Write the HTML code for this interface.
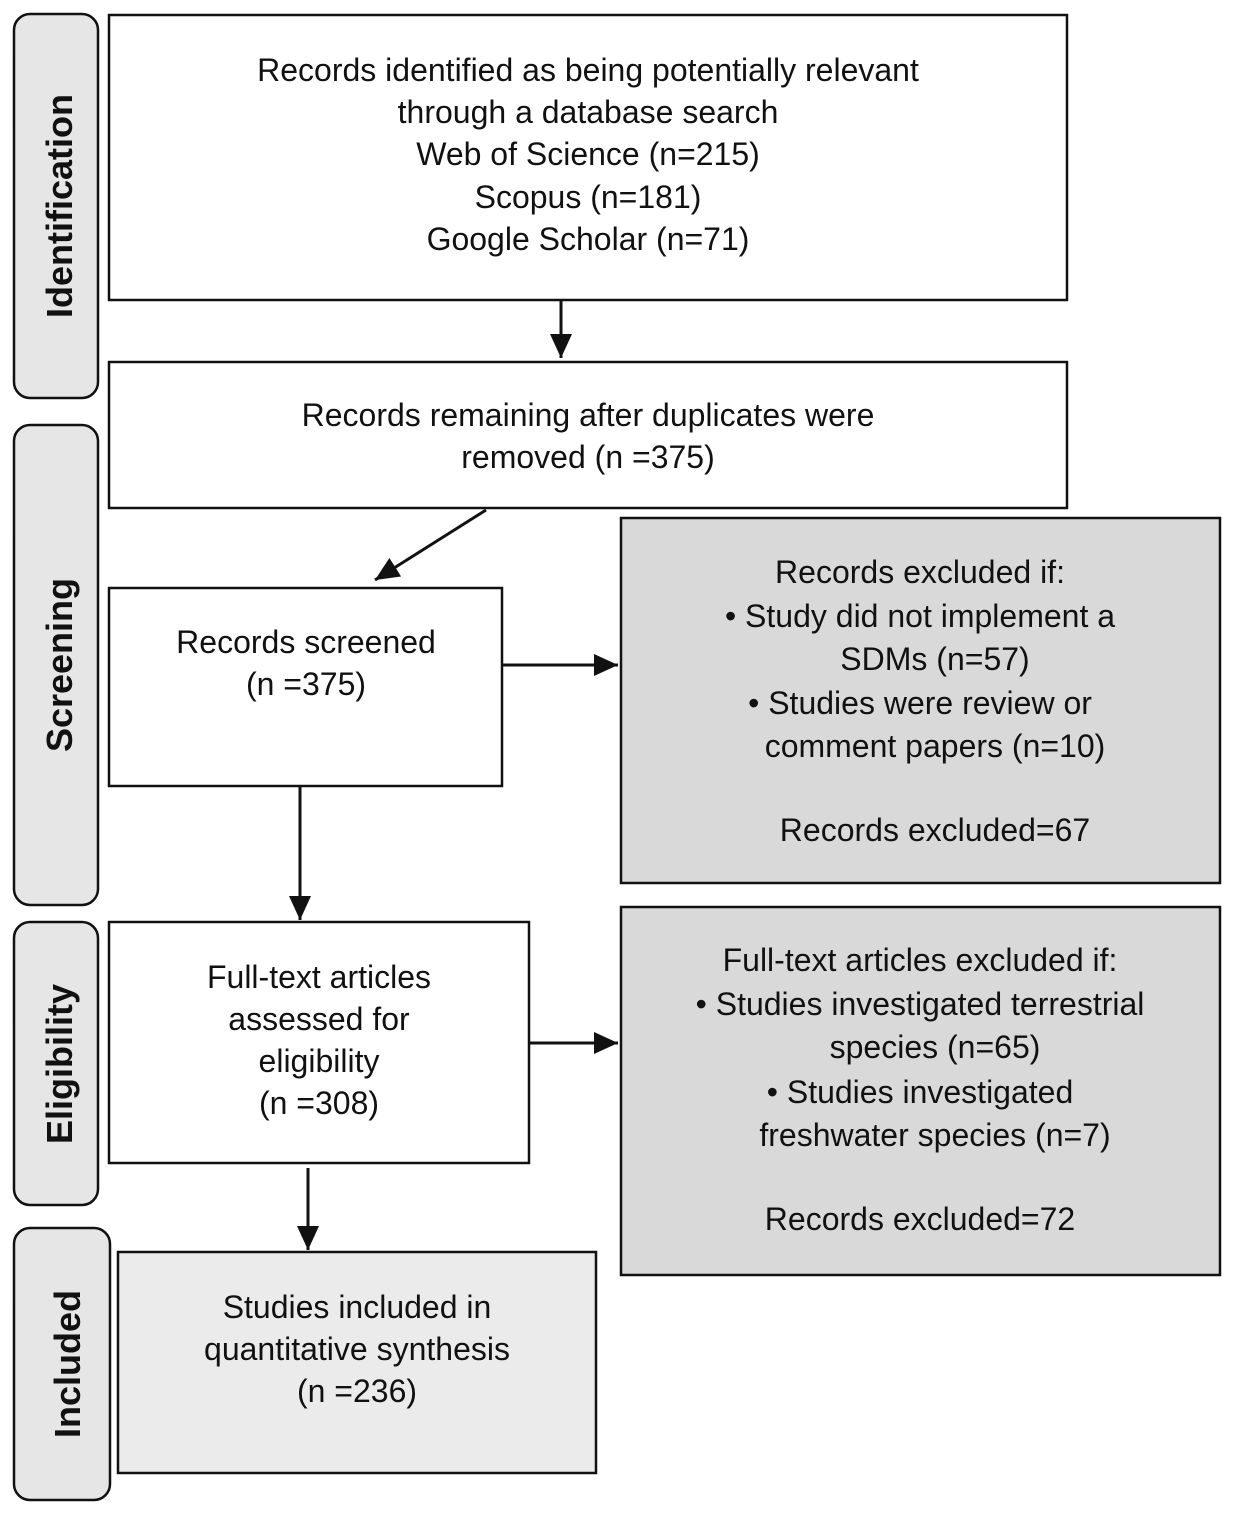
<!DOCTYPE html>
<html><head><style>html,body{margin:0;padding:0;background:#fff}</style></head><body>
<svg width="1234" height="1513" viewBox="0 0 1234 1513" xmlns="http://www.w3.org/2000/svg" font-family="Liberation Sans, Arial, sans-serif">
<defs><marker id="a" markerWidth="10" markerHeight="10" refX="9" refY="5" orient="auto" markerUnits="userSpaceOnUse" viewBox="0 0 10 10"><path d="M0,0 L10,5 L0,10 z" fill="#111"/></marker>
<marker id="b" markerWidth="24" markerHeight="22" refX="24" refY="11" orient="auto" markerUnits="userSpaceOnUse"><path d="M0,0 L24,11 L0,22 z" fill="#111"/></marker></defs>
<g fill="#e6e6e6" stroke="#111" stroke-width="2.5">
<rect x="14" y="14" width="84" height="384" rx="16"/>
<rect x="14" y="425" width="84" height="480" rx="16"/>
<rect x="14" y="922" width="84" height="283" rx="16"/>
<rect x="14" y="1228" width="96" height="272" rx="16"/>
</g>
<g font-weight="bold" font-size="36" fill="#111" text-anchor="middle">
<text transform="translate(72,206) rotate(-90)">Identification</text>
<text transform="translate(72,665) rotate(-90)">Screening</text>
<text transform="translate(72,1064) rotate(-90)">Eligibility</text>
<text transform="translate(80,1364) rotate(-90)">Included</text>
</g>
<g stroke="#111" stroke-width="2.5">
<rect x="109" y="15" width="958" height="285" fill="#fff"/>
<rect x="109" y="362" width="958" height="146" fill="#fff"/>
<rect x="109" y="588" width="393" height="198" fill="#fff"/>
<rect x="621" y="518" width="599" height="365" fill="#d9d9d9"/>
<rect x="109" y="922" width="420" height="241" fill="#fff"/>
<rect x="621" y="907" width="599" height="368" fill="#d9d9d9"/>
<rect x="118" y="1252" width="478" height="221" fill="#ebebeb"/>
</g>
<g stroke="#111" stroke-width="3" fill="none">
<line x1="561" y1="300" x2="561" y2="358" marker-end="url(#b)"/>
<line x1="486" y1="510" x2="375" y2="580" marker-end="url(#b)"/>
<line x1="502" y1="665" x2="618" y2="665" marker-end="url(#b)"/>
<line x1="300" y1="786" x2="300" y2="920" marker-end="url(#b)"/>
<line x1="529" y1="1043" x2="618" y2="1043" marker-end="url(#b)"/>
<line x1="308" y1="1168" x2="308" y2="1250" marker-end="url(#b)"/>
</g>
<g font-size="32" fill="#111" text-anchor="middle">
<text x="588" y="81">Records identified as being potentially relevant</text>
<text x="588" y="123">through a database search</text>
<text x="588" y="165">Web of Science (n=215)</text>
<text x="588" y="208">Scopus (n=181)</text>
<text x="588" y="250">Google Scholar (n=71)</text>
<text x="588" y="426">Records remaining after duplicates were</text>
<text x="588" y="468">removed (n =375)</text>
<text x="306" y="653">Records screened</text>
<text x="306" y="695">(n =375)</text>
<text x="920" y="583">Records excluded if:</text>
<text x="920" y="627">• Study did not implement a</text>
<text x="935" y="670">SDMs (n=57)</text>
<text x="920" y="714">• Studies were review or</text>
<text x="935" y="757">comment papers (n=10)</text>
<text x="935" y="841">Records excluded=67</text>
<text x="319" y="988">Full-text articles</text>
<text x="319" y="1030">assessed for</text>
<text x="319" y="1072">eligibility</text>
<text x="319" y="1114">(n =308)</text>
<text x="920" y="971">Full-text articles excluded if:</text>
<text x="920" y="1015">• Studies investigated terrestrial</text>
<text x="935" y="1058">species (n=65)</text>
<text x="920" y="1103">• Studies investigated</text>
<text x="935" y="1146">freshwater species (n=7)</text>
<text x="920" y="1230">Records excluded=72</text>
<text x="357" y="1318">Studies included in</text>
<text x="357" y="1360">quantitative synthesis</text>
<text x="357" y="1402">(n =236)</text>
</g>
</svg>
</body></html>
